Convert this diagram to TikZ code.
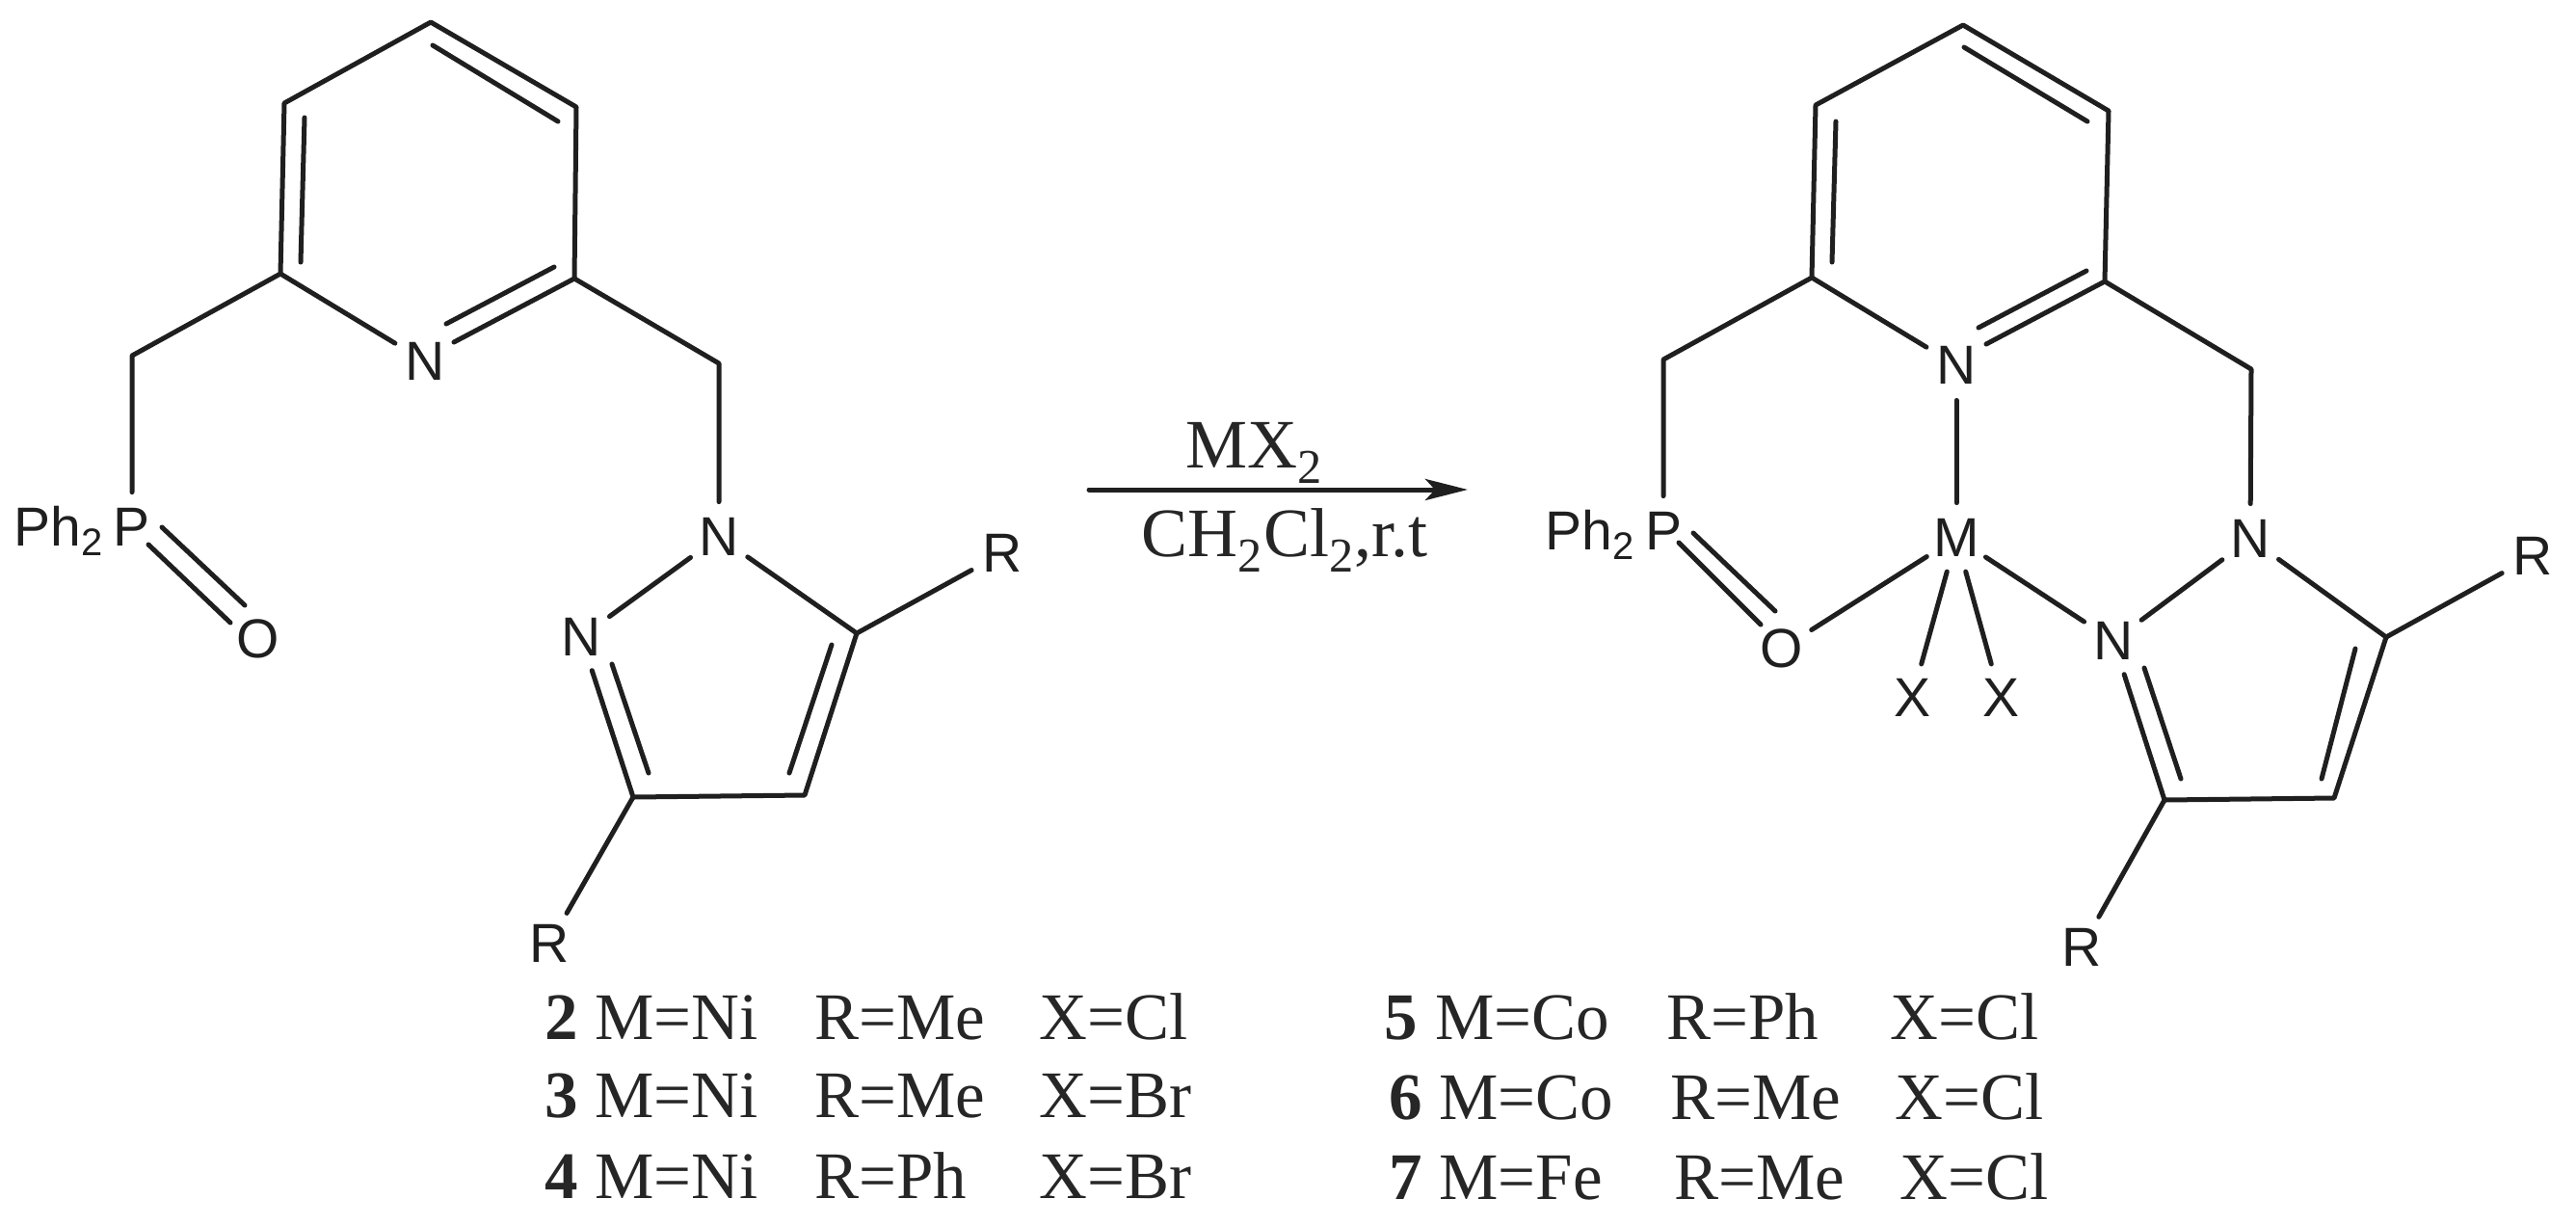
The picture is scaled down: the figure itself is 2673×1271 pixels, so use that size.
\documentclass[tikz,border=0pt]{standalone}
\usepackage{fontspec}
\setmainfont{Liberation Serif}
\newfontfamily\atomfont{Liberation Sans}
\usetikzlibrary{arrows.meta, positioning}
\tikzset{
	bond/.style={line width=2.5pt, line cap=round, line join=round, black!88},
	atom/.style={circle, minimum size=36pt, inner sep=0pt, font=\atomfont\fontsize{28.5}{30}\selectfont, text=black!88},
	sub/.style={inner sep=0pt, anchor=base east, font=\atomfont\fontsize{28.5}{30}\selectfont, text=black!88},
	row/.style={inner sep=0pt, anchor=base west, font=\fontsize{34.5}{36}\selectfont, text=black!85}
}
\begin{document}
\begin{tikzpicture}[x=0.5pt, y=-0.5pt]
	\useasboundingbox (0,0) rectangle (2673,1271);

	% left ligand
	\coordinate (c1) at (447,23);
	\coordinate (c2) at (598,111);
	\coordinate (c3) at (596,289);
	\coordinate (c5) at (291,284);
	\coordinate (c6) at (295,107);
	\coordinate (ch2a) at (137,369);
	\coordinate (ch2b) at (746,377);
	\coordinate (c7) at (889,657);
	\coordinate (c8) at (835,825);
	\coordinate (c9) at (657,827);

	\node[atom] (n1) at (441,375) {N};
	\node[atom] (p1) at (137,547) {P};
	\node[sub] (ph1) at (108,566) {Ph\textsubscript{2}};
	\node[atom] (o1) at (268,663) {O};
	\node[atom] (n2) at (746,557) {N};
	\node[atom] (n3) at (603,661) {N};
	\node[atom] (r1) at (1040,574) {R};
	\node[atom] (r2) at (570,979) {R};

	\draw[bond] (c5) -- (c6) -- (c1) -- (c2) -- (c3);
	\draw[bond] (c5) -- (n1);
	\draw[bond] (p1) -- (ch2a) -- (c5);
	\draw[bond] (c3) -- (ch2b) -- (n2);
	\draw[bond] (n2) -- (n3);
	\draw[bond] (n2) -- (c7) -- (c8) -- (c9) -- (n3);
	\draw[bond] (c7) -- (r1);
	\draw[bond] (c9) -- (r2);

	\coordinate (d1a) at (449,47);  \coordinate (d1b) at (579,126);
	\coordinate (d2a) at (316,122); \coordinate (d2b) at (312,272);
	\coordinate (d3a) at (463,336); \coordinate (d3b) at (575,277);
	\coordinate (d4a) at (635,689); \coordinate (d4b) at (673,802);
	\coordinate (d5a) at (863,669); \coordinate (d5b) at (819,802);
	\coordinate (d6a) at (168,547); \coordinate (d6b) at (254,628);
	\coordinate (d7a) at (154,565); \coordinate (d7b) at (239,646);
	\coordinate (d8a) at (471,355); \coordinate (d8b) at (c3);
	\foreach \i in {1,...,8}
		\draw[bond] (d\i a) -- (d\i b);

	% reaction arrow
	\coordinate (arra) at (1130,508);
	\coordinate (arrb) at (1523,508);
	\draw[bond, -{Stealth[length=22pt, width=11pt, inset=5pt]}] (arra) -- (arrb);
	\node[row, anchor=base] (mx) at (1302,485) {\fontsize{36}{38}\selectfont MX\textsubscript{2}};
	\node[row, anchor=base] (solv) at (1333,577) {\fontsize{36}{38}\selectfont CH\textsubscript{2}Cl\textsubscript{2},r.t};

	% right complex
	\coordinate (e1) at (2037,26);
	\coordinate (e2) at (2188,115);
	\coordinate (e3) at (2184,292);
	\coordinate (e5) at (1880,288);
	\coordinate (e6) at (1884,109);
	\coordinate (ch2c) at (1726,373);
	\coordinate (ch2d) at (2336,383);
	\coordinate (e7) at (2476,661);
	\coordinate (e8) at (2422,828);
	\coordinate (e9) at (2246,830);

	\node[atom] (n4) at (2030,379) {N};
	\node[atom] (m1) at (2030,558) {M};
	\node[atom] (p2) at (1726,551) {P};
	\node[sub] (ph2) at (1697,570) {Ph\textsubscript{2}};
	\node[atom] (o2) at (1849,673) {O};
	\node[atom] (x1) at (1984,724) {X};
	\node[atom] (x2) at (2076,724) {X};
	\node[atom] (n5) at (2335,559) {N};
	\node[atom] (n6) at (2193,665) {N};
	\node[atom] (r3) at (2628,577) {R};
	\node[atom] (r4) at (2160,983) {R};

	\draw[bond] (e5) -- (e6) -- (e1) -- (e2) -- (e3);
	\draw[bond] (e5) -- (n4);
	\draw[bond] (p2) -- (ch2c) -- (e5);
	\draw[bond] (e3) -- (ch2d) -- (n5);
	\draw[bond] (n5) -- (n6);
	\draw[bond] (n5) -- (e7) -- (e8) -- (e9) -- (n6);
	\draw[bond] (e7) -- (r3);
	\draw[bond] (e9) -- (r4);
	\draw[bond] (n4) -- (m1);
	\draw[bond] (m1) -- (o2);
	\draw[bond] (m1) -- (n6);
	\draw[bond] (m1) -- (x1);
	\draw[bond] (m1) -- (x2);

	\coordinate (f1a) at (2038,49);  \coordinate (f1b) at (2166,126);
	\coordinate (f2a) at (1905,126); \coordinate (f2b) at (1901,272);
	\coordinate (f3a) at (2053,340); \coordinate (f3b) at (2165,281);
	\coordinate (f4a) at (2225,693); \coordinate (f4b) at (2263,808);
	\coordinate (f5a) at (2444,673); \coordinate (f5b) at (2409,808);
	\coordinate (f6a) at (1757,553); \coordinate (f6b) at (1842,634);
	\coordinate (f7a) at (1742,563); \coordinate (f7b) at (1827,648);
	\coordinate (f8a) at (2061,357); \coordinate (f8b) at (e3);
	\foreach \i in {1,...,8}
		\draw[bond] (f\i a) -- (f\i b);

	% table of compounds
	\foreach \num/\ax/\bx/\cx/\dx/\by/\mtext/\rtext/\xtext in {
		2/565/617/845/1078/1078/Ni/Me/Cl,
		3/565/617/845/1078/1159/Ni/Me/Br,
		4/565/617/845/1078/1243/Ni/Ph/Br,
		5/1436/1489/1729/1961/1078/Co/Ph/Cl,
		6/1441/1493/1733/1966/1161/Co/Me/Cl,
		7/1441/1493/1737/1971/1244/Fe/Me/Cl}{
		\node[row] (num\num) at (\ax,\by) {\textbf{\num}};
		\node[row] (m\num) at (\bx,\by) {M=\mtext};
		\node[row] (r\num) at (\cx,\by) {R=\rtext};
		\node[row] (x\num) at (\dx,\by) {X=\xtext};
	}
\end{tikzpicture}
\end{document}
